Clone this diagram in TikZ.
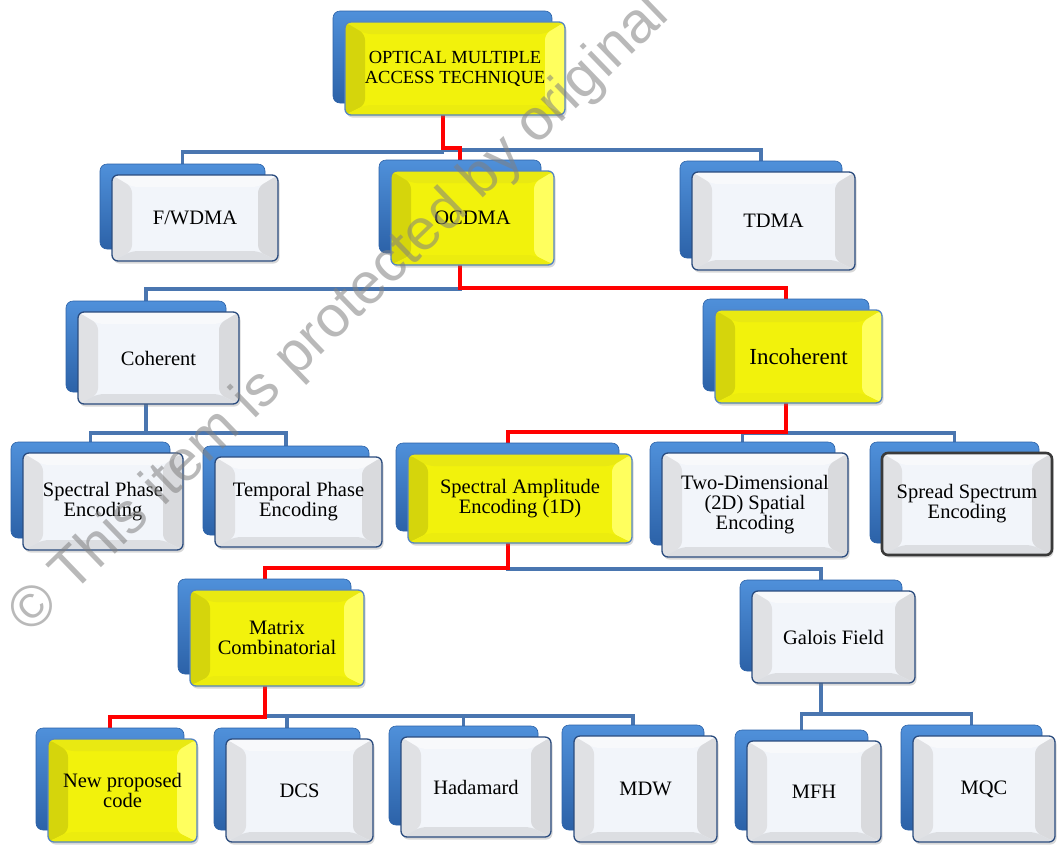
\documentclass[tikz,border=0pt]{standalone}
\usepackage{fontspec}
\setmainfont{Liberation Serif}
\newfontfamily\wmfont{Liberation Sans}
\usetikzlibrary{shadows,calc}
\definecolor{backtop}{HTML}{4F90DA}
\definecolor{backbot}{HTML}{2C62A8}
\definecolor{wcenter}{HTML}{F2F5FA}
\definecolor{wtop}{HTML}{F8F9FB}
\definecolor{wleft}{HTML}{E0E1E4}
\definecolor{wright}{HTML}{D9DADD}
\definecolor{wbot}{HTML}{DCDEE2}
\definecolor{wborder}{HTML}{2B4C7E}
\definecolor{ycenter}{HTML}{F2F20C}
\definecolor{ytop}{HTML}{E9E912}
\definecolor{yleft}{HTML}{D5D50C}
\definecolor{yright}{HTML}{FFFF5E}
\definecolor{ybot}{HTML}{ECEC0E}
\definecolor{yborder}{HTML}{5585C2}
\definecolor{ssborder}{HTML}{3A3A3A}
\definecolor{linkblue}{HTML}{4A76B0}
\definecolor{linkred}{HTML}{FF0000}
\pgfdeclarelayer{paper}\pgfdeclarelayer{bg}\pgfsetlayers{paper,bg,main}
\newcommand\bevelfill[4]{%
 \fill[#1] (path picture bounding box.north west) -- (path picture bounding box.north east)
   -- ([xshift=-20pt,yshift=-12pt]path picture bounding box.north east)
   -- ([xshift=20pt,yshift=-12pt]path picture bounding box.north west) -- cycle;
 \fill[#2] (path picture bounding box.north west) -- (path picture bounding box.south west)
   -- ([xshift=20pt,yshift=10pt]path picture bounding box.south west)
   -- ([xshift=20pt,yshift=-12pt]path picture bounding box.north west) -- cycle;
 \fill[#3] (path picture bounding box.north east) -- (path picture bounding box.south east)
   -- ([xshift=-20pt,yshift=10pt]path picture bounding box.south east)
   -- ([xshift=-20pt,yshift=-12pt]path picture bounding box.north east) -- cycle;
 \fill[#4] (path picture bounding box.south west) -- (path picture bounding box.south east)
   -- ([xshift=-20pt,yshift=10pt]path picture bounding box.south east)
   -- ([xshift=20pt,yshift=10pt]path picture bounding box.south west) -- cycle;
}
\tikzset{
 backbox/.style={rectangle, rounded corners=7pt, top color=backtop, bottom color=backbot,
   draw=backbot, line width=0.6pt, inner sep=0pt, outer sep=0pt},
 frontbox/.style={rectangle, rounded corners=6pt, inner sep=0pt, outer sep=0pt, align=center,
   font=\fontsize{20.5}{20}\selectfont,
   drop shadow={opacity=0.3, shadow xshift=1.5pt, shadow yshift=-2.5pt}},
 whitebox/.style={fill=wcenter, draw=wborder, line width=1.3pt,
   path picture={\bevelfill{wtop}{wleft}{wright}{wbot}}},
 yellowbox/.style={fill=ycenter, draw=yborder, line width=1.3pt,
   path picture={\bevelfill{ytop}{yleft}{yright}{ybot}}},
 ssbox/.style={fill=wcenter, draw=ssborder, line width=2.6pt,
   path picture={\bevelfill{wtop}{wleft}{wright}{wbot}}},
 bluelink/.style={draw=linkblue, line width=3.5pt},
 redlink/.style={draw=linkred, line width=4pt},
 watermark/.style={font=\wmfont\fontsize{58}{58}\selectfont, text=gray, text opacity=0.55}
}
% #1 name, #2 x1, #3 y1, #4 x2, #5 y2, #6 style, #7 text
\newcommand\ocbox[7]{%
 \node[backbox, minimum width={#4-#2-1}, minimum height={#5-#3-1}] (#1b)
   at ({(#2+#4)/2-12.5},{(#3+#5)/2-11.5}) {};
 \node[frontbox, #6, minimum width={#4-#2}, minimum height={#5-#3}] (#1)
   at ({(#2+#4)/2},{(#3+#5)/2}) {#7};
}
% #1 parent, #2 child, #3 middle y, #4 style
\newcommand\conn[4]{%
 \coordinate (mid) at (0,#3);
 \draw[#4] (#1b.south) -- (#1b.south |- mid) -| (#2b.north);
}
\begin{document}
\begin{tikzpicture}[x=1pt,y=-1pt]
\useasboundingbox (0,0) rectangle (1057,844);
\begin{pgfonlayer}{paper}
\fill[white] (0,0) rectangle (1057,844);
\end{pgfonlayer}

\ocbox{top}{345}{22}{565}{115}{yellowbox}{\fontsize{18.5}{20}\selectfont OPTICAL MULTIPLE\\ \fontsize{18.5}{20}\selectfont ACCESS TECHNIQUE}
\ocbox{fw}{112}{175}{278}{261}{whitebox}{F/WDMA}
\ocbox{oc}{391}{171}{554}{265}{yellowbox}{OCDMA}
\ocbox{td}{692}{172}{855}{270}{whitebox}{TDMA}
\ocbox{coh}{78}{312}{239}{404}{whitebox}{Coherent}
\ocbox{inc}{715}{310}{882}{403}{yellowbox}{\fontsize{23}{24}\selectfont Incoherent}
\ocbox{sp}{23}{453}{183}{550}{whitebox}{Spectral Phase\\Encoding}
\ocbox{tp}{215}{457}{382}{547}{whitebox}{Temporal Phase\\Encoding}
\ocbox{sa}{408}{454}{632}{543}{yellowbox}{Spectral Amplitude\\Encoding (1D)}
\ocbox{twod}{662}{453}{848}{557}{whitebox}{Two-Dimensional\\(2D) Spatial\\Encoding}
\ocbox{ss}{882}{453}{1052}{555}{ssbox}{Spread Spectrum\\Encoding}
\ocbox{mc}{190}{590}{364}{686}{yellowbox}{Matrix\\Combinatorial}
\ocbox{gf}{752}{591}{915}{683}{whitebox}{Galois Field}
\ocbox{np}{48}{739}{197}{842}{yellowbox}{New proposed\\code}
\ocbox{dcs}{226}{739}{373}{842}{whitebox}{DCS}
\ocbox{had}{401}{737}{551}{837}{whitebox}{Hadamard}
\ocbox{mdw}{574}{736}{717}{842}{whitebox}{MDW}
\ocbox{mfh}{747}{741}{881}{842}{whitebox}{MFH}
\ocbox{mqc}{913}{736}{1055}{842}{whitebox}{MQC}

\begin{pgfonlayer}{bg}
\conn{top}{fw}{152}{bluelink}
\conn{top}{td}{150}{bluelink}
\conn{top}{oc}{148}{redlink}
\conn{oc}{coh}{289}{bluelink}
\conn{oc}{inc}{288}{redlink}
\conn{coh}{sp}{433}{bluelink}
\conn{coh}{tp}{433}{bluelink}
\conn{inc}{twod}{433}{bluelink}
\conn{inc}{ss}{433}{bluelink}
\conn{inc}{sa}{432}{redlink}
\conn{sa}{gf}{569}{bluelink}
\conn{sa}{mc}{568}{redlink}
\conn{mc}{dcs}{716}{bluelink}
\conn{mc}{had}{716}{bluelink}
\conn{mc}{mdw}{716}{bluelink}
\conn{mc}{np}{717}{redlink}
\conn{gf}{mfh}{714}{bluelink}
\conn{gf}{mqc}{714}{bluelink}
\end{pgfonlayer}

\begin{scope}
\clip (0,0) rectangle (1057,844);
\node[watermark, rotate=44, anchor=base west] (wm) at (28,638) {© This item is protected by original};
\end{scope}
\end{tikzpicture}
\end{document}
